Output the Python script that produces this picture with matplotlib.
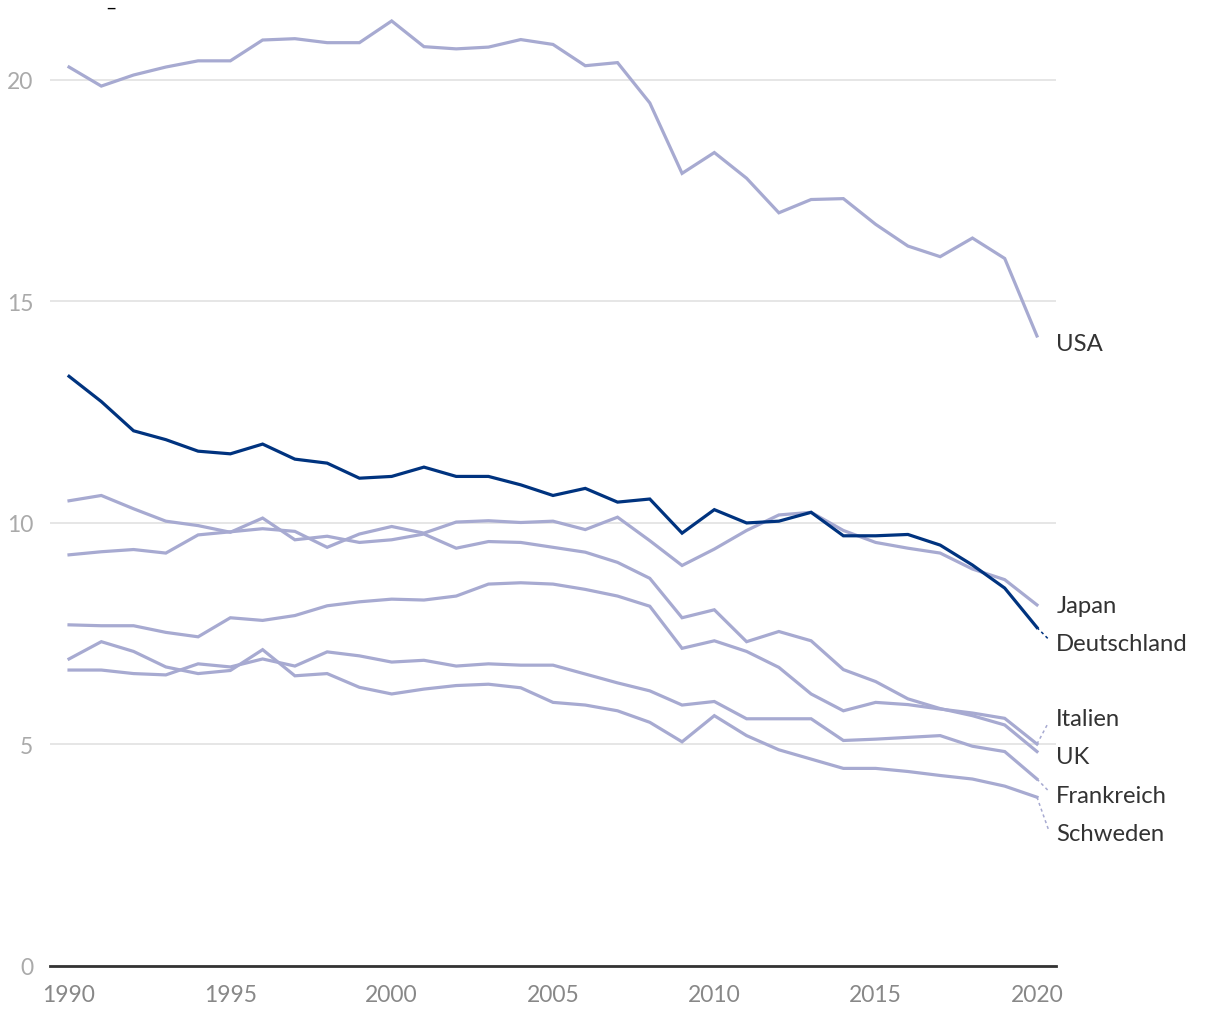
import matplotlib
matplotlib.use("Agg")
import matplotlib.pyplot as plt

# CO2 pro Kopf (t), 1990-2020
years = list(range(1990, 2021))

usa = [20.29, 19.86, 20.11, 20.29, 20.43, 20.43, 20.90, 20.93, 20.84, 20.84,
       21.33, 20.75, 20.70, 20.74, 20.91, 20.80, 20.32, 20.39, 19.48, 17.89,
       18.36, 17.78, 17.00, 17.30, 17.32, 16.74, 16.25, 16.01, 16.43, 15.97,
       14.22]
deutschland = [13.31, 12.74, 12.08, 11.88, 11.62, 11.56, 11.78, 11.44, 11.35, 11.01,
               11.05, 11.26, 11.05, 11.05, 10.86, 10.62, 10.78, 10.47, 10.54, 9.77,
               10.30, 10.00, 10.04, 10.24, 9.71, 9.71, 9.74, 9.50, 9.05, 8.53,
               7.64]
japan = [9.28, 9.35, 9.40, 9.32, 9.73, 9.80, 9.87, 9.81, 9.45, 9.75,
         9.92, 9.77, 10.02, 10.05, 10.01, 10.04, 9.85, 10.13, 9.60, 9.04,
         9.41, 9.83, 10.18, 10.24, 9.83, 9.56, 9.43, 9.32, 8.96, 8.72,
         8.15]
uk = [10.50, 10.62, 10.32, 10.04, 9.94, 9.79, 10.11, 9.62, 9.70, 9.56,
      9.62, 9.75, 9.43, 9.58, 9.56, 9.45, 9.34, 9.11, 8.75, 7.86,
      8.04, 7.32, 7.55, 7.34, 6.69, 6.42, 6.03, 5.81, 5.65, 5.44,
      4.84]
italien = [7.70, 7.68, 7.68, 7.53, 7.43, 7.86, 7.80, 7.91, 8.13, 8.22,
           8.28, 8.26, 8.35, 8.62, 8.65, 8.62, 8.50, 8.35, 8.12, 7.17,
           7.34, 7.10, 6.74, 6.14, 5.76, 5.95, 5.90, 5.80, 5.71, 5.59,
           5.01]
frankreich = [6.68, 6.68, 6.60, 6.57, 6.82, 6.75, 6.93, 6.77, 7.09, 7.00,
              6.86, 6.90, 6.77, 6.82, 6.79, 6.79, 6.59, 6.39, 6.21, 5.89,
              5.97, 5.58, 5.58, 5.58, 5.09, 5.12, 5.16, 5.20, 4.96, 4.84,
              4.22]
schweden = [6.93, 7.32, 7.10, 6.75, 6.60, 6.67, 7.14, 6.55, 6.60, 6.29,
            6.14, 6.25, 6.33, 6.36, 6.28, 5.95, 5.89, 5.76, 5.50, 5.06,
            5.65, 5.20, 4.88, 4.67, 4.46, 4.46, 4.39, 4.30, 4.22, 4.06,
            3.81]

names = ["USA", "Japan", "Deutschland", "Italien", "UK", "Frankreich", "Schweden"]
series = [usa, japan, deutschland, italien, uk, frankreich, schweden]

light = "#a7aad1"
dark = "#00337f"
colors = [dark if n == "Deutschland" else light for n in names]

plt.rcParams["font.family"] = ["Lato", "DejaVu Sans"]

fig = plt.figure(figsize=(12.2, 10.2), dpi=100)
ax = fig.add_axes([50 / 1220, 53 / 1020, 1006 / 1220, 957 / 1020])

# helle Linien zuerst, Deutschland oben drauf
order = sorted(range(len(names)), key=lambda i: names[i] == "Deutschland")
for i in order:
    ax.plot(years, series[i], color=colors[i], lw=2.3,
            solid_joinstyle="miter", zorder=3 if names[i] == "Deutschland" else 2)

ax.set_xlim(1989.41, 2020.59)
ax.set_ylim(0, 21.6)

# Beschriftungen am Ende, einfache Kollisionsvermeidung
gap = 0.865
ends = [s[-1] for s in series]
idx = sorted(range(len(ends)), key=lambda i: -ends[i])
pos = {i: ends[i] for i in idx}
for _ in range(200):
    for a, b in zip(idx[:-1], idx[1:]):
        d = pos[a] - pos[b]
        if d < gap:
            shift = (gap - d) / 2
            pos[a] += shift
            pos[b] -= shift
for i in idx:
    lab_y = pos[i] - 0.18
    if abs(lab_y - ends[i]) > 0.25:
        ax.plot([2020, 2020.35], [ends[i], lab_y + (0.1 if lab_y < ends[i] else -0.1)],
                color=colors[i], lw=1.1, ls=(0, (2, 2)), clip_on=False)
    ax.text(2020.6, lab_y, names[i], fontsize=17.2, color="#333333",
            va="center", ha="left", clip_on=False)

ax.set_yticks([0, 5, 10, 15, 20])
ax.set_xticks([1990, 1995, 2000, 2005, 2010, 2015, 2020])
ax.grid(axis="y", color="#e4e4e4", lw=1.3)
ax.set_axisbelow(True)
for s in ["top", "right", "left"]:
    ax.spines[s].set_visible(False)
ax.spines["bottom"].set_color("#333333")
ax.spines["bottom"].set_linewidth(2)
ax.tick_params(axis="both", length=0)
ax.tick_params(axis="y", labelsize=16.5, labelcolor="#aaaaaa", pad=12)
ax.tick_params(axis="x", labelsize=16.5, labelcolor="#888888", pad=13)

fig.text(111 / 1220, 1 - 8 / 1020, "–", fontsize=14, color="black", ha="center", va="center")

fig.savefig("out.png", dpi=100, facecolor="white")
